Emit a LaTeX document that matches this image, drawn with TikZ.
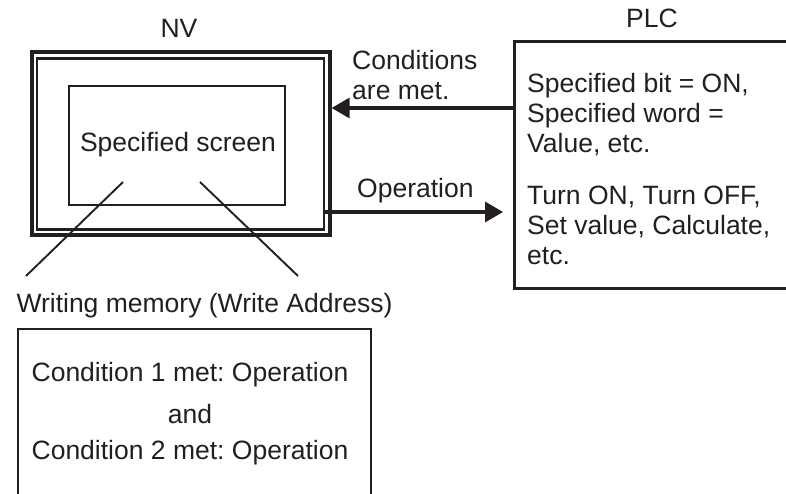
\documentclass[tikz,border=0pt]{standalone}
\usepackage{fontspec}
\setmainfont{Liberation Sans}
\usetikzlibrary{arrows.meta}
\definecolor{ink}{HTML}{231F20}
\frenchspacing
\begin{document}
\begin{tikzpicture}[x=1pt,y=-1pt,
  every node/.style={font=\fontsize{26.5}{30}\selectfont, text=ink, inner sep=0pt},
  box/.style={draw=ink, rectangle, inner sep=0pt},
  lbl/.style={align=left, anchor=west},
  arr/.style={draw=ink, line width=3.4pt, -{Triangle[length=18pt,width=20pt]}},
  lead/.style={draw=ink, line width=1.9pt}]
\useasboundingbox (0,0) rectangle (786,494);
\clip (0,0) rectangle (786,494);
% NV
\node[box, line width=3.2pt, minimum width=298pt, minimum height=183pt] (nvo) at (181,143.5) {};
\node[box, line width=2.6pt, minimum width=287pt, minimum height=171pt] (nvi) at (180.5,144) {};
\node[box, line width=1.9pt, minimum width=216pt, minimum height=119pt] (scr) at (177,145.5) {};
\node (scrt) at (178,145) {Specified screen};
\node (nvl) at (179,28) {NV};
% PLC
\node[box, line width=2.8pt, minimum width=300pt, minimum height=247pt, anchor=north west] (plc) at (513,40) {};
\node (plcl) at (652,18) {PLC};
\node[lbl] (pc) at (527,115) {Specified bit = ON,\\Specified word =\\Value, etc.};
\node[lbl] (po) at (527,225) {Turn ON, Turn OFF,\\Set value, Calculate,\\etc.};
% arrows
\coordinate (cy) at (0,108);
\coordinate (oy) at (0,212);
\draw[arr] (plc.west |- cy) -- (nvo.east |- cy);
\draw[arr, shorten >=10pt] (nvi.east |- oy) -- (plc.west |- oy);
\node[lbl] (condt) at (352,75) {Conditions\\are met.};
\node[lbl] (opt) at (357,191) {Operation};
% leaders
\coordinate (l1a) at (123,182);
\coordinate (l1b) at (26,276);
\coordinate (l2a) at (200,182);
\coordinate (l2b) at (298,276);
\draw[lead] (l1a) -- (l1b);
\draw[lead] (l2a) -- (l2b);
% writing memory
\node (wm) at (204.5,306) {Writing memory (Write Address)};
\node[box, line width=1.9pt, minimum width=353pt, minimum height=190pt, anchor=north west] (mem) at (17,328) {};
\node (c1) at (190,375) {Condition 1 met: Operation};
\node (and) at (190,414) {and};
\node (c2) at (190,453) {Condition 2 met: Operation};
\end{tikzpicture}
\end{document}
